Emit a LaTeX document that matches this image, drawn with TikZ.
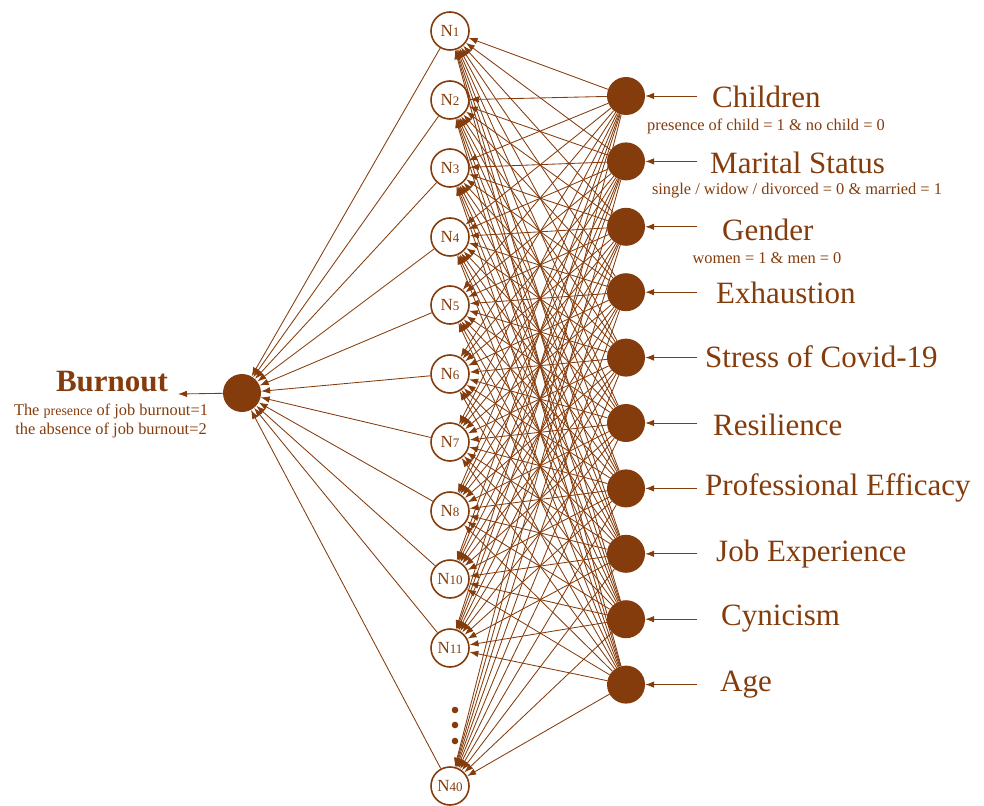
\documentclass[tikz,border=0pt]{standalone}
\usepackage{fontspec}
\setmainfont{Liberation Serif}
\usetikzlibrary{arrows.meta}
\definecolor{br}{HTML}{843C0C}
\begin{document}
\begin{tikzpicture}[x=1pt,y=-1pt,
 hid/.style={circle,draw=br,line width=1.6pt,minimum size=38pt,inner sep=0pt,text=br,font=\fontsize{17}{17}\selectfont},
 inp/.style={circle,fill=br,minimum size=38pt,inner sep=0pt},
 lab/.style={anchor=west,text=br,font=\fontsize{31}{32}\selectfont,inner sep=0pt},
 sub/.style={text=br,font=\fontsize{16.4}{17}\selectfont,inner sep=0pt},
 conn/.style={draw=br,line width=0.85pt,-{Latex[length=9pt,width=6.5pt]}}]
\useasboundingbox (0,0) rectangle (984,805);
% hidden nodes
\foreach \n/\y in {1/31,2/100,3/168,4/237,5/305,6/374,7/442,8/511,10/579,11/648,40/786}
  \node[hid] (h\n) at (450,\y) {N{\fontsize{13}{13}\selectfont\n}};
% dots
\foreach \y in {710,725,741} \fill[br] (455,\y) circle (3.3);
% input nodes
\foreach \i in {1,...,10}
  \node[inp] (i\i) at (626,{96+65.4*(\i-1)}) {};
% output node
\node[inp] (o) at (242,393) {};
% input -> hidden
\foreach \i in {1,...,10}
  \foreach \h in {1,2,3,4,5,6,7,8,10,11,40}
    \draw[conn] (i\i) -- (h\h);
% hidden -> output
\foreach \h in {1,2,3,4,5,6,7,8,10,11,40}
  \draw[conn] (h\h) -- (o);
% output arrow
\coordinate (oe) at (178,394);
\draw[conn] (o) -- (oe);
% input arrows
\foreach \i in {1,...,10} {
  \coordinate (c\i) at (697,{96+65.4*(\i-1)});
  \draw[conn] (c\i) -- (i\i);
}
% labels
\node[lab] (l1) at (712,97) {Children};
\node[sub] (s1) at (766,126) {presence of child = 1 \& no child = 0};
\node[lab] (l2) at (710,163) {Marital Status};
\node[sub] (s2) at (797,191) {single / widow / divorced = 0 \& married = 1};
\node[lab] (l3) at (722,230) {Gender};
\node[sub] (s3) at (767,258) {women = 1 \& men = 0};
\node[lab] (l4) at (716,293) {Exhaustion};
\node[lab] (l5) at (705,357) {Stress of Covid-19};
\node[lab] (l6) at (713,425) {Resilience};
\node[lab] (l7) at (705,488) {Professional Efficacy};
\node[lab] (l8) at (716,554) {Job Experience};
\node[lab] (l9) at (721,619) {Cynicism};
\node[lab] (l10) at (720,685) {Age};
% output labels
\node[text=br,font=\bfseries\fontsize{31}{32}\selectfont,inner sep=0pt] (bt) at (112,382) {Burnout};
\node[sub] (b1) at (111,411) {The {\fontsize{14}{15}\selectfont presence} of job burnout=1};
\node[sub] (b2) at (111,430) {the absence of job burnout=2};
\end{tikzpicture}
\end{document}
